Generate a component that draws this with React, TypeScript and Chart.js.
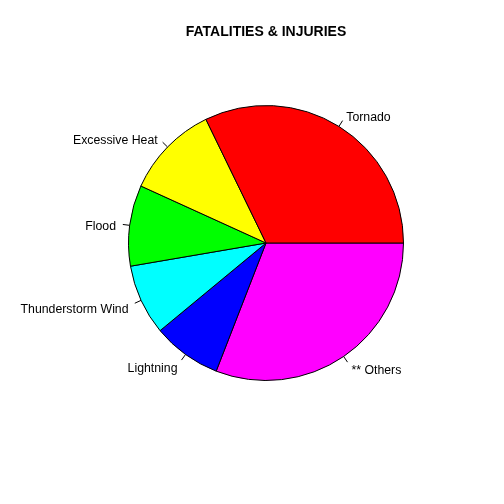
import React, { useEffect, useRef } from "react";
import { Chart, registerables } from "chart.js";

Chart.register(...registerables);

const categories = ["Tornado", "Excessive Heat", "Flood", "Thunderstorm Wind", "Lightning", "** Others"];
const values = [32.2, 11.0, 9.5, 8.3, 8.1, 30.9];
const colors = ["#FF0000", "#FFFF00", "#00FF00", "#00FFFF", "#0000FF", "#FF00FF"];
const title = "FATALITIES & INJURIES";

export default function App() {
  const ref = useRef<HTMLCanvasElement | null>(null);
  useEffect(() => {
    document.body.style.margin = "0";
    const canvas = ref.current!;
    // R draws counter-clockwise from 3 o'clock; Chart.js goes clockwise, so reverse order
    const labels = [...categories].reverse();
    const data = [...values].reverse();
    const bg = [...colors].reverse();

    const labelPlugin = {
      id: "pieLabels",
      afterDraw(chart: any) {
        const ctx = chart.ctx;
        const meta = chart.getDatasetMeta(0);
        ctx.save();
        ctx.strokeStyle = "#000";
        ctx.lineWidth = 1;
        ctx.fillStyle = "#000";
        ctx.font = "12.3px 'Liberation Sans', Arial, sans-serif";
        ctx.textBaseline = "middle";
        meta.data.forEach((arc: any, i: number) => {
          const { x, y, startAngle, endAngle, outerRadius } = arc.getProps(["x", "y", "startAngle", "endAngle", "outerRadius"], true);
          const mid = (startAngle + endAngle) / 2;
          const c = Math.cos(mid), s = Math.sin(mid);
          ctx.beginPath();
          ctx.moveTo(x + outerRadius * c, y + outerRadius * s);
          ctx.lineTo(x + outerRadius * 1.05 * c, y + outerRadius * 1.05 * s);
          ctx.stroke();
          const tx = x + outerRadius * 1.1 * c;
          const ty = y + outerRadius * 1.1 * s + 3;
          ctx.textAlign = c >= 0 ? "left" : "right";
          ctx.fillText(chart.data.labels[i], tx, ty);
        });
        ctx.font = "bold 14px 'Liberation Sans', Arial, sans-serif";
        ctx.textAlign = "center";
        ctx.fillText(title, 266, 32);
        ctx.restore();
      },
    };

    const chart = new Chart(canvas, {
      type: "pie",
      data: {
        labels,
        datasets: [
          {
            data,
            backgroundColor: bg,
            borderColor: "#000000",
            borderWidth: 1,
          },
        ],
      },
      options: {
        responsive: false,
        animation: false,
        rotation: 90,
        layout: { padding: { left: 128, right: 100, top: 105, bottom: 123 } },
        plugins: {
          legend: { display: false },
          tooltip: { enabled: false },
          title: { display: false },
        },
      },
      plugins: [labelPlugin],
    });
    return () => chart.destroy();
  }, []);
  return (
    <div style={{ width: 504, height: 504, background: "#fff" }}>
      <canvas ref={ref} width={504} height={504} style={{ display: "block" }} />
    </div>
  );
}
